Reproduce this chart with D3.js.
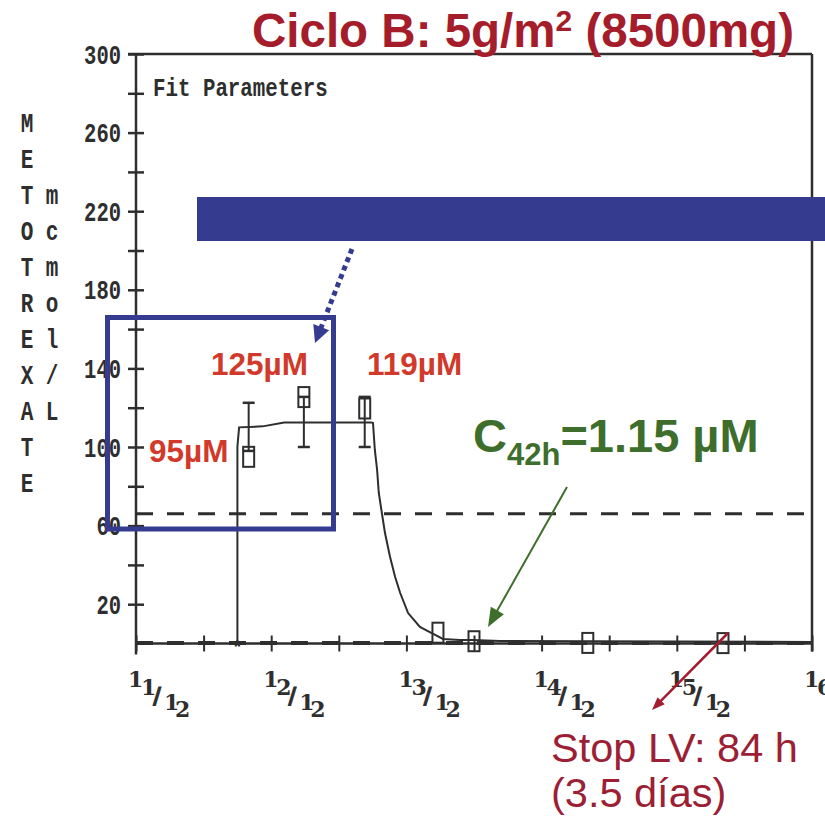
<!DOCTYPE html>
<html><head><meta charset="utf-8">
<script src="https://cdn.jsdelivr.net/npm/d3@7"></script>
<style>html,body{margin:0;padding:0;background:#fff;overflow:hidden}</style>
</head><body>
<svg id="c" width="825" height="821"></svg>
<script>
// ---------- data ----------
const yTickValues = [20,40,60,80,100,120,140,160,180,200,220,240,260,280,300];
const yTickLabels = [20,60,100,140,180,220,260,300];
const xTickHours = [0,12,24,36,48,60,72,84,96,108,120];
const xLabelHours = [0,24,48,72,96,120];
const xLabels = ["11/12","12/12","13/12","14/12","15/12","16/12"];
const yAxisTitle1 = "METOTREXATE";
const yAxisTitle2 = "mcmol/L";
const sampleHours = [20.0, 29.8, 40.6, 53.6, 60.0, 80.2, 104.2];
const sampleConc  = [95, 125.4, 119.6, 5.5, 1.15, 0.3, 0.2];
const errHours = [20.0, 29.8, 40.6];
const errLow   = [98, 100, 100];
const errHigh  = [122.5, 125.5, 125.5];
const fitHours = [18.0, 18.0, 18.3, 22.5, 26.3, 41.8, 42.07, 42.4, 42.8, 43.1, 43.7, 44.2, 45.1, 46.0, 46.9, 48.3, 50.4, 52.5, 54.5, 57.5, 59.8, 64.6, 120];
const fitConc  = [0, 100, 110, 110.5, 112.5, 112.5, 112.2, 98.5, 88.3, 76.6, 65.4, 56.2, 44.0, 33.8, 25.7, 15.5, 8.4, 5.3, 2.3, 1.8, 1.8, 1.3, 0.8];
const refLevels = [66, 0.3];
const doseStartHour = 18;
const conc42Labels = ["95µM","125µM","119µM"];

// ---------- setup ----------
const ink = "#2e2e2e";
const svg = d3.select("#c");
const x = d3.scaleLinear().domain([0,120]).range([136,812]);
const y = d3.scaleLinear().domain([0,300]).range([643.5,54]);

// frame
svg.append("line").attr("x1",128).attr("x2",x(120)).attr("y1",y(300)).attr("y2",y(300)).attr("stroke",ink).attr("stroke-width",2.5);
svg.append("line").attr("x1",x(120)).attr("x2",x(120)).attr("y1",y(300)).attr("y2",y(0)+8).attr("stroke",ink).attr("stroke-width",2.5);
svg.append("line").attr("x1",x(0)).attr("x2",x(0)).attr("y1",y(300)).attr("y2",y(0)+11).attr("stroke",ink).attr("stroke-width",2.5);
svg.append("line").attr("x1",x(0)).attr("x2",x(120)).attr("y1",y(0)).attr("y2",y(0)).attr("stroke",ink).attr("stroke-width",2.5);

// y axis
const yAxis = svg.append("g").attr("transform",`translate(${x(0)},0)`)
  .call(d3.axisLeft(y).tickValues(yTickValues).tickSize(8).tickPadding(7)
    .tickFormat(d => yTickLabels.includes(d) ? d : ""));
yAxis.select(".domain").remove();
yAxis.selectAll(".tick line").attr("x1",8).attr("stroke",ink).attr("stroke-width",2.5);
yAxis.selectAll(".tick text")
  .attr("font-family","Liberation Mono, monospace").attr("font-weight","bold")
  .attr("font-size",20.5).attr("fill",ink).attr("dy","0.33em")
  .attr("transform","scale(1,1.35)");

// x axis
const xAxis = svg.append("g").attr("transform",`translate(0,${y(0)})`)
  .call(d3.axisBottom(x).tickValues(xTickHours).tickSize(8).tickFormat(""));
xAxis.select(".domain").remove();
xAxis.selectAll(".tick line").attr("y1",-8).attr("stroke",ink).attr("stroke-width",2);

// stepped x labels
const charDx = [-8, 5, 17, 28, 39];
const charBase = [687, 695, 703, 710, 717];
xLabelHours.forEach((h,i) => {
  const t = svg.append("text").attr("font-family","DejaVu Serif, serif")
    .attr("font-weight","bold").attr("font-size",22).attr("fill",ink);
  xLabels[i].split("").forEach((ch,k) => {
    const s = t.append("tspan").attr("x", x(h)+charDx[k]).attr("y", charBase[k]).text(ch);
    if (ch === "/") s.attr("stroke",ink).attr("stroke-width",0.9);
  });
});

// y axis title (vertical letters)
yAxisTitle1.split("").forEach((ch,i) => {
  svg.append("text").attr("transform",`translate(27,${122+36*i}) scale(1,1.35)`)
    .attr("text-anchor","middle").attr("dy","0.35em")
    .attr("font-family","Liberation Mono, monospace").attr("font-weight","bold")
    .attr("font-size",21).attr("fill",ink).text(ch);
});
yAxisTitle2.split("").forEach((ch,i) => {
  svg.append("text").attr("transform",`translate(52,${194+36*i}) scale(1,1.35)`)
    .attr("text-anchor","middle").attr("dy","0.35em")
    .attr("font-family","Liberation Mono, monospace").attr("font-weight","bold")
    .attr("font-size",21).attr("fill",ink).text(ch);
});

// Fit Parameters
svg.append("text").attr("transform","translate(153,87) scale(1,1.25)").attr("dy","0.35em")
  .attr("font-family","Liberation Mono, monospace").attr("font-weight","bold")
  .attr("font-size",20.8).attr("fill",ink).text("Fit Parameters");

// reference dashed lines
refLevels.forEach((v,i) => {
  svg.append("line").attr("x1",x(0)).attr("x2",x(120)).attr("y1",y(v)).attr("y2",y(v))
    .attr("stroke",ink).attr("stroke-width", i===0 ? 3 : 4).attr("stroke-dasharray","17,14");
});

// fitted curve
const fitData = fitHours.map((h,i)=>[h,fitConc[i]]);
svg.append("path").datum(fitData)
  .attr("d", d3.line().x(d=>x(d[0])).y(d=>y(d[1])))
  .attr("fill","none").attr("stroke",ink).attr("stroke-width",2);

// dose start marker
svg.append("text").attr("x",x(doseStartHour)).attr("y",y(0)+9).attr("text-anchor","middle")
  .attr("font-family","Liberation Mono, monospace").attr("font-weight","bold").attr("font-size",18)
  .attr("fill",ink).text("*");

// error bars
errHours.forEach((h,i) => {
  const cx = x(h);
  svg.append("line").attr("x1",cx).attr("x2",cx).attr("y1",y(errLow[i])).attr("y2",y(errHigh[i]))
    .attr("stroke",ink).attr("stroke-width",2);
  [errLow[i], errHigh[i]].forEach(v => {
    svg.append("line").attr("x1",cx-6).attr("x2",cx+6).attr("y1",y(v)).attr("y2",y(v))
      .attr("stroke",ink).attr("stroke-width",2.5);
  });
});

// sample markers (open rectangles)
sampleHours.forEach((h,i) => {
  svg.append("rect").attr("x",x(h)-5.5).attr("y",y(sampleConc[i])-10)
    .attr("width",11).attr("height",20).attr("fill","none")
    .attr("stroke",ink).attr("stroke-width",2);
});

// ---------- annotations ----------
function arrow(x1,y1,x2,y2,color,w,hl,hw,dash){
  const dx=x2-x1, dy=y2-y1, L=Math.hypot(dx,dy), ux=dx/L, uy=dy/L;
  const bx=x2-ux*hl, by=y2-uy*hl;
  const ln = svg.append("line").attr("x1",x1).attr("y1",y1).attr("x2",bx+ux*1).attr("y2",by+uy*1)
    .attr("stroke",color).attr("stroke-width",w);
  if(dash) ln.attr("stroke-dasharray",dash);
  svg.append("polygon").attr("points",
    `${x2},${y2} ${bx-uy*hw/2},${by+ux*hw/2} ${bx+uy*hw/2},${by-ux*hw/2}`).attr("fill",color);
}

const blue = "#353b8f";
svg.append("rect").attr("x",197).attr("y",197).attr("width",628).attr("height",44).attr("fill",blue);
svg.append("rect").attr("x",107.5).attr("y",317.5).attr("width",226).attr("height",211.5)
  .attr("fill","none").attr("stroke",blue).attr("stroke-width",5);
arrow(352,249,315,343,blue,5,17,17,"5,4");

// concentration labels
const red = "#d13a2b";
const labPos = [[149,462],[211,375],[367,375]];
conc42Labels.forEach((t,i) => {
  svg.append("text").attr("x",labPos[i][0]).attr("y",labPos[i][1])
    .attr("font-family","Liberation Sans, Arial, sans-serif").attr("font-weight","bold")
    .attr("font-size",31.5).attr("fill",red).text(t);
});

// title
const title = svg.append("text").attr("x",252).attr("y",47)
  .attr("font-family","Liberation Sans, Arial, sans-serif").attr("font-weight","bold")
  .attr("font-size",47.5).attr("fill","#a51c2a");
title.append("tspan").text("Ciclo B: 5g/m");
title.append("tspan").attr("font-size",30).attr("dy",-16).text("2");
title.append("tspan").attr("dy",16).text(" (8500mg)");

// green annotation
const green = "#3d6e2c";
const gt = svg.append("text").attr("x",473).attr("y",452)
  .attr("font-family","Liberation Sans, Arial, sans-serif").attr("font-weight","bold").attr("fill",green);
gt.append("tspan").attr("font-size",47).text("C");
gt.append("tspan").attr("font-size",31).attr("dy",13).text("42h");
gt.append("tspan").attr("font-size",47).attr("dy",-13).text("=1.15 µM");
arrow(567,487,488,627,green,2,19,15);

// stop annotation
const dred = "#9c1f35";
arrow(728,633,652,710,"#a31d31",2.5,13,10);
svg.append("text").attr("x",551).attr("y",762)
  .attr("font-family","Liberation Sans, Arial, sans-serif").attr("font-size",41.5)
  .attr("fill",dred).text("Stop LV: 84 h");
svg.append("text").attr("x",551).attr("y",807)
  .attr("font-family","Liberation Sans, Arial, sans-serif").attr("font-size",41.5)
  .attr("fill",dred).text("(3.5 días)");
</script>
</body></html>
